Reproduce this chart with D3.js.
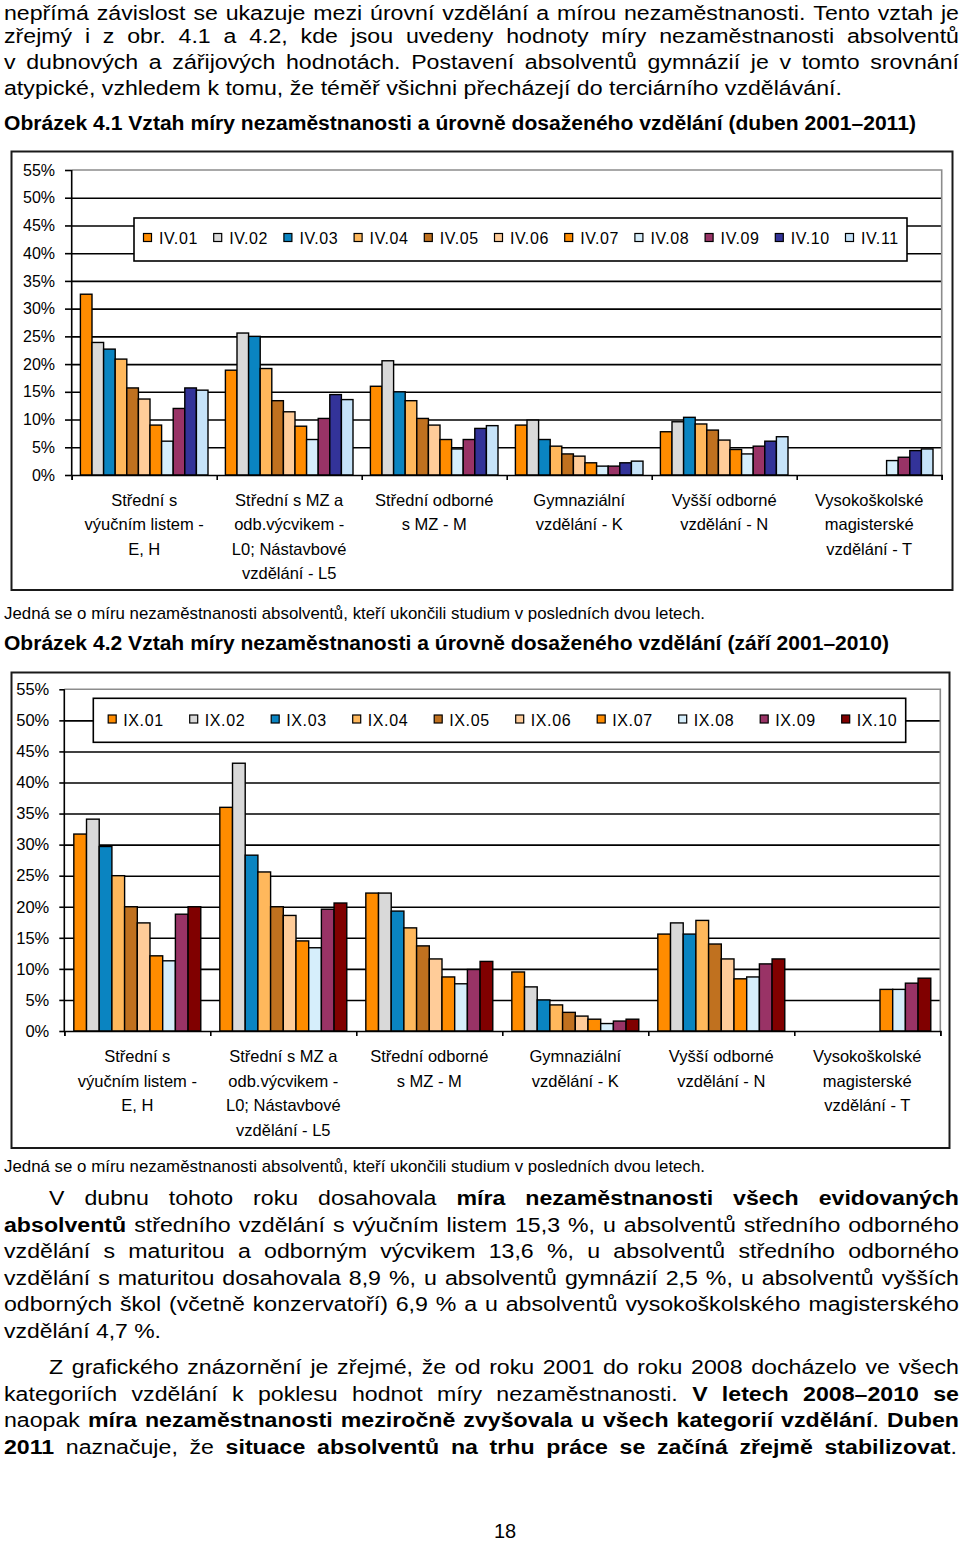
<!DOCTYPE html>
<html><head><meta charset="utf-8">
<script src="https://cdnjs.cloudflare.com/ajax/libs/d3/7.8.5/d3.min.js"></script>
<style>body{margin:0;background:#fff}svg{display:block}</style>
</head><body>
<script>
// ---------- DATA ----------
const categoryLabels = [
  ["Střední s","výučním listem -","E, H"],
  ["Střední s MZ a","odb.výcvikem -","L0; Nástavbové","vzdělání - L5"],
  ["Střední odborné","s MZ - M"],
  ["Gymnaziální","vzdělání - K"],
  ["Vyšší odborné","vzdělání - N"],
  ["Vysokoškolské","magisterské","vzdělání - T"]
];
const yTickValues = [0,5,10,15,20,25,30,35,40,45,50,55];

const aprilSeries = ["IV.01","IV.02","IV.03","IV.04","IV.05","IV.06","IV.07","IV.08","IV.09","IV.10","IV.11"];
const aprilValues = [
  [32.6, 18.9, 16.0, 9.0, 7.8, null],
  [23.9, 25.6, 20.6, 9.9, 9.6, null],
  [22.7, 25.0, 15.0, 6.4, 10.4, null],
  [20.9, 19.2, 13.4, 5.2, 9.2, null],
  [15.7, 13.4, 10.2, 3.8, 8.1, null],
  [13.7, 11.4, 9.0, 3.4, 6.3, null],
  [9.0, 8.8, 6.4, 2.2, 4.6, null],
  [6.1, 6.4, 4.7, 1.6, 3.8, 2.6],
  [12.0, 10.2, 6.4, 1.6, 5.2, 3.2],
  [15.7, 14.5, 8.4, 2.2, 6.1, 4.4],
  [15.3, 13.6, 8.9, 2.5, 6.9, 4.7]
];
const aprilColors = ["#FF8C00","#D9D9D9","#0A84C1","#FFB85C","#C0711F","#FFCC99","#FF8C00","#D6EEFB","#993366","#333399","#C6E3F9"];

const septSeries = ["IX.01","IX.02","IX.03","IX.04","IX.05","IX.06","IX.07","IX.08","IX.09","IX.10"];
const septValues = [
  [31.7, 36.0, 22.2, 9.5, 15.6, null],
  [34.1, 43.1, 22.2, 7.1, 17.4, null],
  [29.7, 28.3, 19.3, 5.0, 15.6, null],
  [25.0, 25.6, 16.6, 4.2, 17.8, null],
  [20.0, 20.0, 13.7, 3.0, 14.0, null],
  [17.4, 18.6, 11.6, 2.4, 11.6, null],
  [12.1, 14.5, 8.7, 1.9, 8.4, 6.7],
  [11.3, 13.4, 7.6, 1.2, 8.7, 6.7],
  [18.8, 19.6, 9.9, 1.6, 10.8, 7.7],
  [20.0, 20.6, 11.2, 1.9, 11.6, 8.5]
];
const septColors = ["#FF8C00","#D9D9D9","#0A84C1","#FFB85C","#C0711F","#FFCC99","#FF8C00","#D6EEFB","#993366","#800000"];

// ---------- PAGE ----------
const FONT = "'Liberation Sans', Arial, Helvetica, sans-serif";
const svg = d3.select("body").append("svg").attr("width",960).attr("height",1543)
  .style("font-family",FONT);
svg.append("rect").attr("width",960).attr("height",1543).attr("fill","#fff");

function textLine(spec){
  const {x0,x1,y,parts,justify,size,scale} = spec;
  const words=[]; let cur=[];
  parts.forEach(([t,b])=>{
    t.split(" ").forEach((tok,i)=>{
      if(i>0){ if(cur.length) words.push(cur); cur=[]; }
      if(tok) cur.push({t:tok,b});
    });
  });
  if(cur.length) words.push(cur);
  const g = svg.append("g");
  const nodes = words.map(w=>{
    const t = g.append("text").attr("font-size",size).attr("fill","#000");
    w.forEach(p=>t.append("tspan").attr("font-weight",p.b?"bold":"normal").text(p.t));
    return t;
  });
  const widths = nodes.map(n=>n.node().getComputedTextLength());
  const sum = d3.sum(widths);
  const space = size*0.278;
  let sx, gap;
  if(justify){ sx = scale||1; gap = ((x1-x0)/sx - sum)/Math.max(1,words.length-1); }
  else { sx = (x1-x0)/(sum+space*(words.length-1)); gap = space; }
  g.attr("transform",`translate(${x0},${y}) scale(${sx},1)`);
  let x=0;
  nodes.forEach((n,i)=>{ n.attr("x",x); x+=widths[i]+gap; });
  return sx;
}
const BS = 21;
// top paragraph
const s0 = textLine({x0:4,x1:842,y:95,size:BS,parts:[["atypické, vzhledem k tomu, že téměř všichni přecházejí do terciárního vzdělávání.",0]]});
textLine({x0:4,x1:959,y:19.5,size:BS,justify:true,scale:s0,parts:[["nepřímá závislost se ukazuje mezi úrovní vzdělání a mírou nezaměstnanosti. Tento vztah je",0]]});
textLine({x0:4,x1:959,y:43,size:BS,justify:true,scale:s0,parts:[["zřejmý i z obr. 4.1 a 4.2, kde jsou uvedeny hodnoty míry nezaměstnanosti absolventů",0]]});
textLine({x0:4,x1:959,y:69,size:BS,justify:true,scale:s0,parts:[["v dubnových a zářijových hodnotách. Postavení absolventů gymnázií je v tomto srovnání",0]]});
textLine({x0:4,x1:916,y:130,size:BS,parts:[["Obrázek 4.1 Vztah míry nezaměstnanosti a úrovně dosaženého vzdělání (duben 2001–2011)",1]]});
textLine({x0:4,x1:705,y:619,size:16,parts:[["Jedná se o míru nezaměstnanosti absolventů, kteří ukončili studium v posledních dvou letech.",0]]});
textLine({x0:4,x1:889,y:650,size:BS,parts:[["Obrázek 4.2 Vztah míry nezaměstnanosti a úrovně dosaženého vzdělání (září 2001–2010)",1]]});
textLine({x0:4,x1:705,y:1172,size:16,parts:[["Jedná se o míru nezaměstnanosti absolventů, kteří ukončili studium v posledních dvou letech.",0]]});
// body
const bodyLines = [
  {x0:49,y:1205,j:1,parts:[["V dubnu tohoto roku dosahovala ",0],["míra nezaměstnanosti všech evidovaných",1]]},
  {x0:4,y:1231.5,j:1,parts:[["absolventů",1],[" středního vzdělání s výučním listem 15,3 %, u absolventů středního odborného",0]]},
  {x0:4,y:1258,j:1,parts:[["vzdělání s maturitou a odborným výcvikem 13,6 %, u absolventů středního odborného",0]]},
  {x0:4,y:1284.5,j:1,parts:[["vzdělání s maturitou dosahovala 8,9 %, u absolventů gymnázií 2,5 %, u absolventů vyšších",0]]},
  {x0:4,y:1311,j:1,parts:[["odborných škol (včetně konzervatoří) 6,9 % a u absolventů vysokoškolského magisterského",0]]},
  {x0:4,y:1337.5,j:0,x1:161,parts:[["vzdělání 4,7 %.",0]]},
  {x0:49,y:1374,j:1,parts:[["Z grafického znázornění je zřejmé, že od roku 2001 do roku 2008 docházelo ve všech",0]]},
  {x0:4,y:1400.5,j:1,parts:[["kategoriích vzdělání k poklesu hodnot míry nezaměstnanosti. ",0],["V letech 2008–2010 se",1]]},
  {x0:4,y:1427,j:1,parts:[["naopak ",0],["míra nezaměstnanosti meziročně zvyšovala u všech kategorií vzdělání",1],[". ",0],["Duben",1]]},
  {x0:4,y:1453.5,j:1,x1:957,parts:[["2011",1],[" naznačuje, že ",0],["situace absolventů na trhu práce se začíná zřejmě stabilizovat",1],[".",0]]}
];
bodyLines.forEach(l=>textLine({x0:l.x0,x1:l.x1||959,y:l.y,size:BS,justify:!!l.j,scale:s0,parts:l.parts}));
svg.append("text").attr("x",505).attr("y",1538).attr("text-anchor","middle").attr("font-size",20).text("18");

// ---------- CHARTS ----------
function drawChart(o){
  const g = svg.append("g");
  g.append("rect").attr("x",o.frame[0]).attr("y",o.frame[1]).attr("width",o.frame[2]-o.frame[0])
    .attr("height",o.frame[3]-o.frame[1]).attr("fill","#fff").attr("stroke","#1a1a1a").attr("stroke-width",2);
  const y = d3.scaleLinear().domain([0,55]).range([o.y0,o.y55]);
  const x0 = d3.scaleBand().domain(d3.range(categoryLabels.length)).range([o.xL,o.xR]);
  const x1 = d3.scaleBand().domain(o.series).range([0,x0.bandwidth()]).paddingOuter(0.75);

  const grid = g.append("g").attr("transform",`translate(${o.xL},0)`)
    .call(d3.axisLeft(y).tickValues(yTickValues.filter(v=>v>0&&v<55)).tickSize(-(o.xR-o.xL)).tickFormat(""));
  grid.select(".domain").remove();
  grid.selectAll("line").attr("stroke","#000").attr("stroke-width",1.6);
  g.append("path").attr("d",`M${o.xL},${y(55)}H${o.xR}V${o.y0}`).attr("fill","none").attr("stroke","#8c8c8c").attr("stroke-width",1.6);
  const ya = g.append("g").attr("transform",`translate(${o.xL},0)`)
    .call(d3.axisLeft(y).tickValues(yTickValues).tickSize(o.tickLen).tickPadding(o.tickPad).tickFormat(d=>d+"%"));
  ya.select(".domain").remove();
  ya.selectAll("line").attr("stroke","#000").attr("stroke-width",1.6);
  ya.selectAll("text").attr("font-size",o.tickFont).attr("font-family",FONT).attr("fill","#000");
  g.append("line").attr("x1",o.xL).attr("x2",o.xL).attr("y1",y(55)).attr("y2",o.y0).attr("stroke","#000").attr("stroke-width",1.6);

  const lg = g.append("g");
  lg.append("rect").attr("x",o.leg.l).attr("y",o.leg.t).attr("width",o.leg.r-o.leg.l).attr("height",o.leg.b-o.leg.t)
    .attr("fill","#fff").attr("stroke","#000").attr("stroke-width",1.6);
  o.series.forEach((s,i)=>{
    const lx = o.leg.x + i*o.leg.step;
    lg.append("rect").attr("x",lx+0.5).attr("y",o.leg.swY).attr("width",8).attr("height",8)
      .attr("fill",o.colors[i]).attr("stroke","#000").attr("stroke-width",1.2);
    lg.append("text").attr("x",lx+o.leg.tx).attr("y",o.leg.ty).attr("font-size",16).attr("fill","#000")
      .attr("letter-spacing",0.6).text(s);
  });

  o.series.forEach((s,si)=>{
    g.append("g").selectAll("rect").data(o.values[si].map((v,ci)=>({v,ci})).filter(d=>d.v!=null))
      .join("rect")
      .attr("x",d=>x0(d.ci)+x1(s)).attr("y",d=>y(d.v))
      .attr("width",x1.bandwidth()).attr("height",d=>o.y0-y(d.v))
      .attr("fill",o.colors[si]).attr("stroke","#000").attr("stroke-width",1.4);
  });

  const xa = g.append("g").attr("transform",`translate(0,${o.y0})`)
    .call(d3.axisBottom(d3.scaleLinear().domain([0,categoryLabels.length]).range([o.xL,o.xR]))
      .tickValues(d3.range(categoryLabels.length+1)).tickSize(5).tickFormat(""));
  xa.select(".domain").attr("stroke","#000").attr("stroke-width",1.6);
  xa.selectAll("line").attr("stroke","#000").attr("stroke-width",1.6);

  categoryLabels.forEach((lines,ci)=>{
    lines.forEach((ln,li)=>{
      g.append("text").attr("x",x0(ci)+x0.bandwidth()/2).attr("y",o.labY+li*o.labDy)
        .attr("text-anchor","middle").attr("font-size",16.5).attr("fill","#000").text(ln);
    });
  });
}

drawChart({
  series:aprilSeries, values:aprilValues, colors:aprilColors,
  frame:[11.5,151.5,952.5,590], xL:71.7, xR:941.7, y0:475, y55:170,
  tickLen:6.7, tickPad:10, tickFont:16,
  leg:{l:134,r:907,t:218,b:261,x:143,step:70.2,swY:233.5,tx:16,ty:244},
  labY:506, labDy:24.3
});
drawChart({
  series:septSeries, values:septValues, colors:septColors,
  frame:[11.5,672.5,949.5,1148], xL:64.3, xR:940.3, y0:1031, y55:689.3,
  tickLen:5, tickPad:10, tickFont:16.5,
  leg:{l:93.3,r:905.7,t:698.3,b:742.3,x:107.7,step:81.5,swY:715,tx:15.6,ty:725.5},
  labY:1062, labDy:24.7
});
</script>
</body></html>
